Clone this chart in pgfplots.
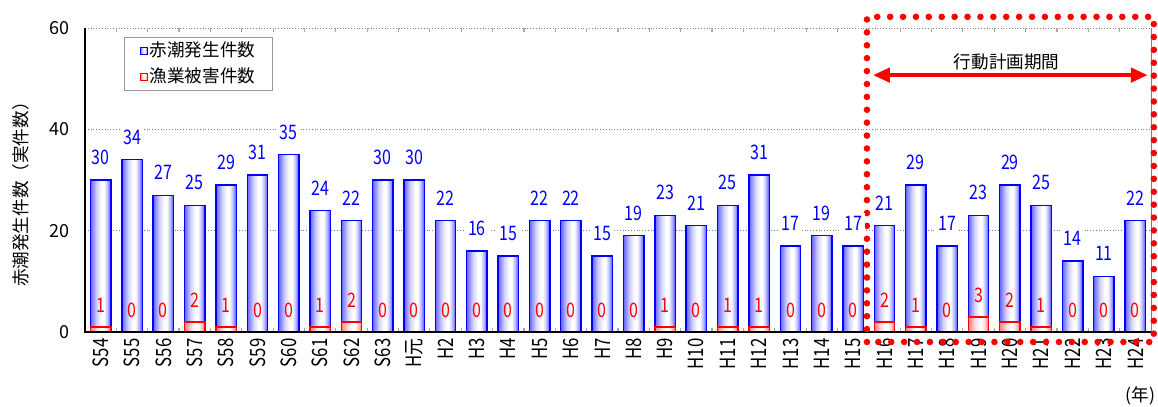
\documentclass[border=0pt]{standalone}
\usepackage{fontspec}
\setmainfont{Noto Sans CJK JP}
\newfontfamily\numfont[FakeStretch=0.8]{Noto Sans CJK JP}
\usepackage{pgfplots}
\usepackage{pgfplotstable}
\pgfplotsset{compat=1.18}
\usetikzlibrary{arrows.meta}
\pgfdeclarehorizontalshading{bluebar}{100bp}{color(0bp)=(blue!70); color(25bp)=(blue!60); color(40bp)=(blue!18); color(52bp)=(white); color(58bp)=(white); color(66bp)=(blue!25); color(75bp)=(blue!70); color(100bp)=(blue!80)}
\pgfdeclarehorizontalshading{redbar}{100bp}{color(0bp)=(red!60); color(25bp)=(red!50); color(40bp)=(red!15); color(52bp)=(white); color(58bp)=(white); color(66bp)=(red!20); color(75bp)=(red!60); color(100bp)=(red!70)}
\newcommand{\jfont}{\fontsize{8.8}{10}\selectfont}
\newcommand{\vfont}{\numfont\fontsize{10}{11}\selectfont}
% x = category index, y = red tide occurrences, r = fishery damage cases
\pgfplotstableread{
x y r
0 30 1
1 34 0
2 27 0
3 25 2
4 29 1
5 31 0
6 35 0
7 24 1
8 22 2
9 30 0
10 30 0
11 22 0
12 16 0
13 15 0
14 22 0
15 22 0
16 15 0
17 19 0
18 23 1
19 21 0
20 25 1
21 31 1
22 17 0
23 19 0
24 17 0
25 21 2
26 29 1
27 17 0
28 23 3
29 29 2
30 25 1
31 14 0
32 11 0
33 22 0
}\datatable
\begin{document}
\begin{tikzpicture}
\useasboundingbox (-42.5pt,-37.5pt) rectangle (536.5pt,166pt);
\begin{axis}[
  at={(0,0)}, anchor=south west,
  scale only axis, width=533pt, height=152pt,
  xmin=-0.5, xmax=33.5, ymin=0, ymax=60,
  clip=false,
  xtick={0,...,33},
  xticklabels={S54,S55,S56,S57,S58,S59,S60,S61,S62,S63,H元,H2,H3,H4,H5,H6,H7,H8,H9,H10,H11,H12,H13,H14,H15,H16,H17,H18,H19,H20,H21,H22,H23,H24},
  ytick={0,20,40,60},
  ymajorgrids, grid style={gray, densely dotted, line width=0.4pt},
  axis line style={draw=none},
  major tick length=0pt,
  minor x tick num=1,
  minor tick length=2pt,
  tick align=inside,
  minor tick style={gray!70, line width=0.6pt},
  xticklabel style={font=\numfont\fontsize{10.5}{12}\selectfont, rotate=90, anchor=east, inner sep=3pt},
  yticklabel style={font=\fontsize{9}{10}\selectfont, anchor=east, inner sep=0pt, xshift=-7.5pt},
  /pgf/number format/assume math mode=true,
  ylabel={赤潮発生件数（実件数）},
  ylabel style={at={(axis description cs:-0.060,0.467)}, anchor=center, font=\jfont},
  legend style={at={(axis description cs:0.0366,0.970)}, anchor=north west, draw=gray!80, line width=0.5pt, font=\jfont, inner xsep=7.5pt, inner ysep=1.25pt, row sep=2pt, nodes={inner sep=1pt, text depth=0.15em}},
  legend cell align=left,
]
\addlegendimage{legend image code/.code={\draw[blue, line width=0.6pt, shading=bluebar] (0pt,-1.75pt) rectangle (3.5pt,1.75pt);}}
\addlegendentry{赤潮発生件数}
\addlegendimage{legend image code/.code={\draw[red, line width=0.6pt, shading=redbar] (0pt,-1.75pt) rectangle (3.5pt,1.75pt);}}
\addlegendentry{漁業被害件数}
\pgfplotsinvokeforeach{0,...,33}{
\addplot[ybar, forget plot, bar width=0.65, bar shift=0pt, draw=blue, line width=0.7pt,
  shading=bluebar, restrict x to domain=#1:#1] table[x=x, y=y] {\datatable};
\addplot[ybar, forget plot, bar width=0.65, bar shift=0pt, draw=red, line width=0.7pt,
  shading=redbar, restrict x to domain=#1:#1, restrict y to domain=0.5:100] table[x=x, y=r] {\datatable};
}
\addplot[draw=none, forget plot, nodes near coords,
  every node near coord/.append style={font=\vfont, text=blue, fill=white, inner sep=1.5pt, anchor=south, yshift=6pt}]
  table[x=x, y=y] {\datatable};
\addplot[draw=none, forget plot, nodes near coords,
  every node near coord/.append style={font=\vfont, text=red, inner sep=0pt, anchor=south, yshift=7pt}]
  table[x=x, y=r] {\datatable};
\draw[black, line width=0.75pt] (axis cs:-0.5,60) -- (axis cs:-0.5,0) -- (axis cs:33.5,0);
\draw[gray, line width=0.5pt] (axis cs:33.5,0) -- (axis cs:33.5,60);
\draw[red, line width=2.2pt, {Triangle[length=8.5pt,width=7pt]}-{Triangle[length=8.5pt,width=7pt]}] (axis cs:24.63,50.7) -- (axis cs:33.4,50.7);
\node[font=\jfont] at (axis cs:28.9,53.3) {行動計画期間};
\node[font=\jfont] at (axis cs:33.17,-12.6) {(年)};
\draw[red, line width=3.3pt, line cap=round, dash pattern=on 0pt off 6.45pt] (axis cs:24.44,-1.97) rectangle (axis cs:33.59,62.2);
\end{axis}
\end{tikzpicture}
\end{document}
